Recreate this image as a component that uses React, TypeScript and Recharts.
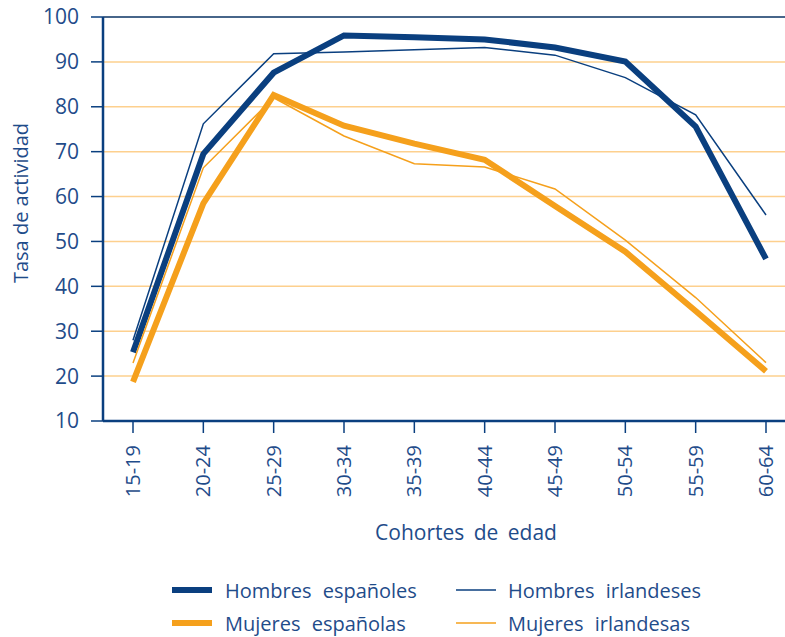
import { LineChart, Line, XAxis, YAxis, CartesianGrid, ReferenceLine, Legend, Label } from 'recharts'

const cohortes = ['15-19', '20-24', '25-29', '30-34', '35-39', '40-44', '45-49', '50-54', '55-59', '60-64']
const hombresEsp = [25.3, 69.5, 87.6, 95.9, 95.5, 95.0, 93.2, 90.1, 75.6, 46.1]
const hombresIrl = [28, 76.2, 91.8, 92.2, 92.7, 93.2, 91.5, 86.5, 78.2, 55.9]
const mujeresEsp = [18.7, 58.5, 82.6, 75.8, 71.8, 68.2, 57.9, 47.7, 34.5, 21.1]
const mujeresIrl = [22.9, 66.4, 82, 73.5, 67.3, 66.6, 61.7, 50.3, 37.5, 23]
const yTicks = [10, 20, 30, 40, 50, 60, 70, 80, 90, 100]

const data = cohortes.map((c, i) => ({
  cohorte: c,
  hombresEsp: hombresEsp[i],
  hombresIrl: hombresIrl[i],
  mujeresEsp: mujeresEsp[i],
  mujeresIrl: mujeresIrl[i],
}))

const NAVY = '#0a3f7f'
const TEXT = '#1f4c8a'
const ORANGE = '#f5a01c'
const GRID = '#fdd08e'
const FONT = '"Open Sans", sans-serif'

const legendItems = [
  { label: 'Hombres españoles', color: NAVY, w: 6 },
  { label: 'Hombres irlandeses', color: NAVY, w: 1.5 },
  { label: 'Mujeres españolas', color: ORANGE, w: 6 },
  { label: 'Mujeres irlandesas', color: ORANGE, w: 1.5 },
]

function XTick({ x, y, payload }: any) {
  return (
    <g transform={`translate(${x},${y})`}>
      <text
        transform="rotate(-90)"
        x={-10}
        y={0}
        dy="0.35em"
        textAnchor="end"
        fill={TEXT}
        fontSize={20}
        fontFamily={FONT}
      >
        {payload.value}
      </text>
    </g>
  )
}

function LegendBox() {
  return (
    <div style={{ height: 67, position: 'relative', fontFamily: FONT, fontSize: 20, color: TEXT }}>
      {legendItems.map((it, i) => {
        const col = i % 2
        const row = Math.floor(i / 2)
        return (
          <div
            key={it.label}
            style={{
              position: 'absolute',
              left: col === 0 ? 172 : 456,
              top: row === 0 ? 7 : 40,
              display: 'flex',
              alignItems: 'center',
              height: 26,
              wordSpacing: 6,
              whiteSpace: 'nowrap',
            }}
          >
            <svg width={40} height={10} style={{ marginRight: col === 0 ? 13 : 12 }}>
              <line x1={0} x2={40} y1={5} y2={5} stroke={it.color} strokeWidth={it.w} />
            </svg>
            <span>{it.label}</span>
          </div>
        )
      })}
    </div>
  )
}

export default function App() {
  return (
    <div style={{ position: 'absolute', left: 0, top: 0, width: 785, height: 637, background: '#fff' }}>
      <LineChart width={785} height={637} data={data} margin={{ top: 17, right: 0, bottom: 0, left: 0 }}>
        <CartesianGrid vertical={false} stroke={GRID} strokeWidth={1.5} />
        <XAxis
          dataKey="cohorte"
          height={149}
          padding={{ left: 30, right: 19 }}
          stroke={NAVY}
          strokeWidth={2.5}
          tickSize={12}
          tickLine={{ stroke: NAVY, strokeWidth: 1.5 }}
          tick={<XTick />}
          interval={0}
        >
          <Label
            value="Cohortes de edad"
            position="insideTop"
            offset={104}
            dx={22}
            fill={TEXT}
            fontSize={21}
            fontFamily={FONT}
            style={{ wordSpacing: 4 }}
          />
        </XAxis>
        <YAxis
          type="number"
          domain={[10, 100]}
          ticks={yTicks}
          width={103}
          stroke={NAVY}
          strokeWidth={2.5}
          tickSize={12}
          tickMargin={12}
          tickLine={{ stroke: NAVY, strokeWidth: 1.5 }}
          tick={{ fill: TEXT, fontSize: 21, fontFamily: FONT }}
          interval={0}
        >
          <Label
            content={({ viewBox }: any) => {
              const cx = 20
              const cy = viewBox.y + viewBox.height / 2 - 16
              return (
                <text
                  x={cx}
                  y={cy}
                  transform={`rotate(-90, ${cx}, ${cy})`}
                  textAnchor="middle"
                  dominantBaseline="central"
                  fill={TEXT}
                  fontSize={20}
                  fontFamily={FONT}
                >
                  Tasa de actividad
                </text>
              )
            }}
          />
        </YAxis>
        <ReferenceLine y={100} stroke={NAVY} strokeWidth={1.5} />
        <Line dataKey="mujeresEsp" stroke={ORANGE} strokeWidth={6} dot={false} isAnimationActive={false} />
        <Line dataKey="hombresEsp" stroke={NAVY} strokeWidth={6} dot={false} isAnimationActive={false} />
        <Line dataKey="mujeresIrl" stroke={ORANGE} strokeWidth={1.5} dot={false} isAnimationActive={false} />
        <Line dataKey="hombresIrl" stroke={NAVY} strokeWidth={1.5} dot={false} isAnimationActive={false} />
        <Legend verticalAlign="bottom" content={<LegendBox />} />
      </LineChart>
    </div>
  )
}
